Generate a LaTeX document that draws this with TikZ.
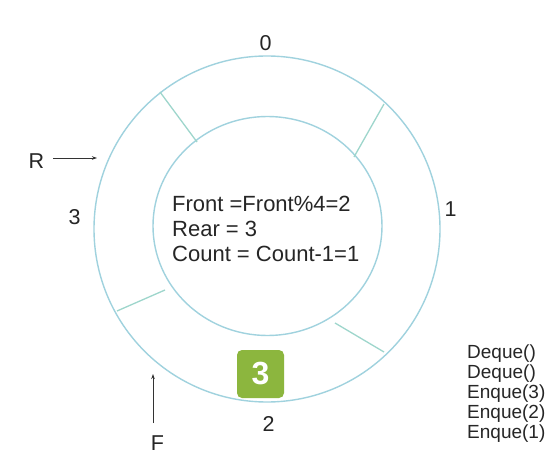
\documentclass[tikz,border=0pt]{standalone}
\usepackage{fontspec}
\setmainfont{Liberation Sans}
\usetikzlibrary{arrows.meta}
\definecolor{ring}{RGB}{160,210,222}
\definecolor{spoke}{RGB}{158,214,204}
\definecolor{boxgreen}{RGB}{140,182,62}
\begin{document}
\begin{tikzpicture}[x=1pt,y=-1pt,
  ringline/.style={draw=ring,line width=1.4pt},
  spokeline/.style={draw=spoke,line width=1.3pt},
  lbl/.style={inner sep=0pt,font=\fontsize{21.5}{24}\selectfont,text=black!85},
  info/.style={inner sep=0pt,anchor=base west,font=\fontsize{22}{25}\selectfont,text=black!85},
  ops/.style={inner sep=0pt,anchor=base west,font=\fontsize{19}{20}\selectfont,text=black!85},
  greenbox/.style={fill=boxgreen,rounded corners=5pt,minimum width=47pt,minimum height=48pt,inner sep=0pt,text=white,font=\fontsize{32}{34}\bfseries\selectfont},
  ptr/.style={draw=black!80,line width=0.9pt,-{Stealth[length=5pt,width=3.5pt]}}]
\useasboundingbox (0,0) rectangle (550,460);
\fill[white] (0,0) rectangle (550,460);
% rings
\draw[ringline] (267,229) circle[radius=173pt];
\draw[ringline] (267.5,226) ellipse[x radius=114.5pt, y radius=109.5pt];
% spokes
\coordinate (o1) at (160,92);  \coordinate (i1) at (197,142);
\coordinate (o2) at (384,104); \coordinate (i2) at (354,157);
\coordinate (o3) at (384,352); \coordinate (i3) at (335,323);
\coordinate (o4) at (117,311); \coordinate (i4) at (165,290);
\draw[spokeline] (o1) -- (i1);
\draw[spokeline] (o2) -- (i2);
\draw[spokeline] (o3) -- (i3);
\draw[spokeline] (o4) -- (i4);
% slot labels
\node[lbl] (l0) at (265.5,43) {0};
\node[lbl] (l1) at (450.5,209) {1};
\node[lbl] (l2) at (268.5,424) {2};
\node[lbl] (l3) at (74.5,217) {3};
% pointers
\node[lbl] (R) at (36.5,161.5) {R};
\node[lbl] (F) at (157.5,443) {F};
\coordinate (r1) at (53,158); \coordinate (r2) at (97,158);
\coordinate (f1) at (153,423); \coordinate (f2) at (153,374);
\draw[ptr] (r1) -- (r2);
\draw[ptr] (f1) -- (f2);
% element
\node[greenbox] (box) at (260.5,374) {3};
% center text
\node[info] (t1) at (172,211.5) {Front =Front\%4=2};
\node[info] (t2) at (172,236.5) {Rear = 3};
\node[info] (t3) at (172,261.5) {Count = Count-1=1};
% operations
\node[ops] (op1) at (467,358) {Deque()};
\node[ops] (op2) at (467,378) {Deque()};
\node[ops] (op3) at (467,398) {Enque(3)};
\node[ops] (op4) at (467,418) {Enque(2)};
\node[ops] (op5) at (467,438) {Enque(1)};
\end{tikzpicture}
\end{document}
